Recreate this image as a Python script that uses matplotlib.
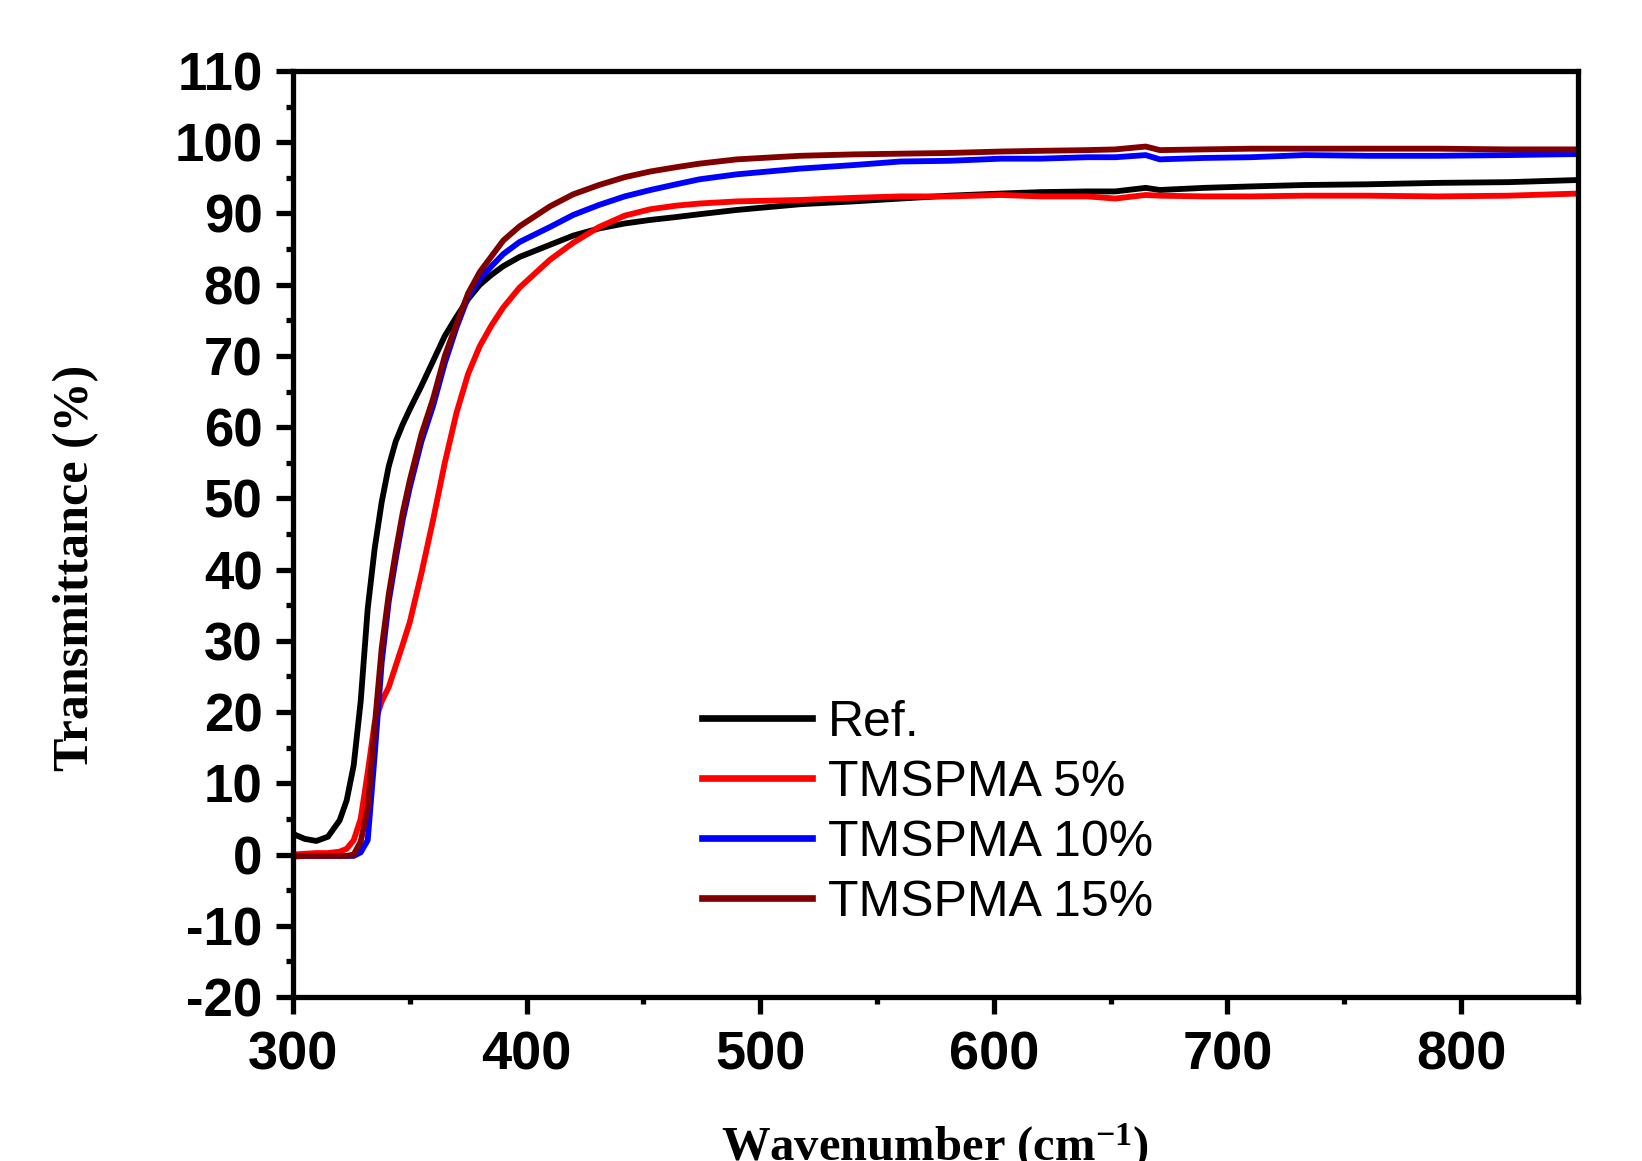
"""UV-vis transmittance of Ref. and TMSPMA films."""

import matplotlib

matplotlib.use("Agg")
import matplotlib.pyplot as plt  # noqa: E402
from matplotlib.ticker import MultipleLocator  # noqa: E402

wavelength = [300, 305, 310, 315, 320, 323, 326, 329, 332, 335, 338, 341, 344, 347,
              350, 355, 360, 365, 370, 375, 380, 385, 390, 397, 410, 420, 431, 442,
              453, 464, 474, 490, 517, 540, 560, 581, 603, 620, 640, 652, 665, 671,
              690, 710, 733, 760, 790, 820, 850]

ref = [2.9, 2.2, 1.9, 2.5, 4.8, 7.6, 12.5, 21.5, 34.5, 43.0, 49.5, 54.5, 58.0, 60.4,
       62.5, 65.8, 69.3, 72.8, 75.5, 78.0, 80.0, 81.4, 82.6, 83.9, 85.6, 86.9, 87.9, 88.6,
       89.1, 89.5, 89.9, 90.5, 91.3, 91.7, 92.1, 92.5, 92.8, 93.0, 93.1, 93.1, 93.6, 93.3,
       93.6, 93.8, 94.0, 94.1, 94.3, 94.4, 94.7]

tmspma_5 = [0.0, 0.1, 0.2, 0.2, 0.4, 0.8, 2.0, 5.0, 11.5, 18.5, 21.5, 23.5, 26.5, 29.5,
            32.6, 39.5, 47.0, 55.0, 62.0, 67.5, 71.4, 74.3, 76.8, 79.6, 83.5, 85.9, 88.1, 89.7,
            90.6, 91.1, 91.4, 91.7, 91.9, 92.2, 92.4, 92.4, 92.6, 92.4, 92.4, 92.1, 92.6, 92.5,
            92.4, 92.4, 92.5, 92.5, 92.4, 92.5, 92.8]

tmspma_10 = [-0.2, -0.2, -0.2, -0.2, -0.2, -0.2, -0.2, 0.3, 2.0, 14.0, 27.0, 35.5, 41.5, 47.0,
             51.5, 58.0, 63.0, 69.0, 74.0, 78.3, 80.8, 82.6, 84.3, 86.0, 88.1, 89.8, 91.2, 92.4,
             93.3, 94.1, 94.8, 95.5, 96.3, 96.8, 97.3, 97.4, 97.7, 97.7, 97.9, 97.9, 98.2, 97.6,
             97.8, 97.9, 98.2, 98.1, 98.1, 98.2, 98.35]

tmspma_15 = [-0.3, -0.2, -0.2, -0.2, -0.2, -0.2, 0.0, 1.8, 6.5, 18.0, 29.0, 36.5, 42.5, 48.0,
             52.5, 59.0, 64.0, 70.0, 74.5, 78.8, 81.8, 84.0, 86.2, 88.2, 91.0, 92.7, 94.0, 95.1,
             95.9, 96.5, 97.0, 97.6, 98.1, 98.3, 98.4, 98.5, 98.7, 98.8, 98.9, 99.0, 99.4, 98.9,
             99.0, 99.1, 99.1, 99.1, 99.1, 99.0, 99.0]

labels = ["Ref.", "TMSPMA 5%", "TMSPMA 10%", "TMSPMA 15%"]
colors = ["black", "#ff0000", "#0000ff", "#800000"]


def main() -> None:
    plt.rcParams["axes.unicode_minus"] = False
    plt.rcParams["mathtext.fontset"] = "custom"
    plt.rcParams["mathtext.rm"] = "Liberation Serif:bold"
    plt.rcParams["mathtext.it"] = "Liberation Serif:bold"
    plt.rcParams["mathtext.bf"] = "Liberation Serif:bold"

    fig = plt.figure(figsize=(16.42, 11.61), dpi=100)
    ax = fig.add_axes([0.1784, 0.1413, 0.7826, 0.7975])

    for y, lab, c in zip([ref, tmspma_5, tmspma_10, tmspma_15], labels, colors):
        ax.plot(wavelength, y, color=c, lw=4.2, label=lab)

    ax.set_xlim(300, 850)
    ax.set_ylim(-20, 110)
    ax.xaxis.set_major_locator(MultipleLocator(100))
    ax.xaxis.set_minor_locator(MultipleLocator(50))
    ax.yaxis.set_major_locator(MultipleLocator(10))
    ax.yaxis.set_minor_locator(MultipleLocator(5))
    ax.tick_params(which="both", direction="out", top=False, right=False, width=3.8)
    ax.tick_params(which="major", length=12)
    ax.tick_params(which="minor", length=5)
    ax.tick_params(axis="x", which="major", pad=12)
    ax.tick_params(axis="y", which="major", pad=10)
    for sp in ax.spines.values():
        sp.set_linewidth(3.8)
    for t in ax.get_xticklabels():
        t.set_fontfamily("Liberation Sans")
        t.set_fontweight("bold")
        t.set_fontsize(39)
    for t in ax.get_yticklabels():
        t.set_fontfamily("Liberation Sans")
        t.set_fontweight("bold")
        t.set_fontsize(38)

    fig.text(0.0463, 0.511, "Transmittance (%)", family="Liberation Serif", weight="bold",
             fontsize=36, rotation=90, ha="center", va="center")
    fig.text(0.5695, 0.0, r"Wavenumber (cm$^{-1}$)", family="Liberation Serif",
             weight="bold", fontsize=35, ha="center", va="baseline")

    leg = ax.legend(loc="upper left", bbox_to_anchor=(0.318, 0.321), frameon=False,
                    prop={"family": "Liberation Sans", "size": 36}, handlelength=2.2,
                    handletextpad=0.32, labelspacing=0.28, borderpad=0, borderaxespad=0)
    for h in leg.get_lines():
        h.set_linewidth(4.8)

    fig.savefig("out.png", dpi=100)


if __name__ == "__main__":
    main()
